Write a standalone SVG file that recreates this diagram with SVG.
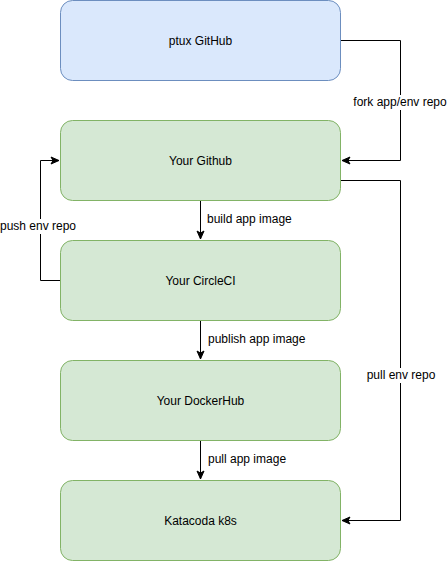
<svg xmlns="http://www.w3.org/2000/svg" width="447" height="561" viewBox="0 0 447 561">
<style>
.node rect{stroke-width:1}
.blue rect{fill:#dae8fc;stroke:#6c8ebf}
.green rect{fill:#d5e8d4;stroke:#82b366}
text{font-family:"Liberation Sans",Arial,Helvetica,sans-serif;font-size:12px;fill:#000}
.c{text-anchor:middle}
.edge{fill:none;stroke:#000;stroke-width:1}
.bg{fill:#fff}
</style>
<defs>
<marker id="arr" markerUnits="userSpaceOnUse" markerWidth="10" markerHeight="10" viewBox="0 0 10 10" refX="9" refY="5" orient="auto">
<path d="M1,1.5 L9,5 L1,8.5 L3,5 Z" fill="#000" stroke="#000" stroke-width="1"/>
</marker>
</defs>
<rect width="447" height="561" fill="#fff"/>
<g id="connectors">
<path class="edge" d="M340.5,40.5 H400.5 V160.5 H342" marker-end="url(#arr)"/>
<path class="edge" d="M340.5,180.5 H400.5 V520.5 H342" marker-end="url(#arr)"/>
<path class="edge" d="M200.5,200.5 V239" marker-end="url(#arr)"/>
<path class="edge" d="M60.5,280.5 H40.5 V160.5 H59" marker-end="url(#arr)"/>
<path class="edge" d="M200.5,320.5 V359" marker-end="url(#arr)"/>
<path class="edge" d="M200.5,440.5 V479" marker-end="url(#arr)"/>
<rect class="bg" x="353" y="95" width="94" height="15"/>
<text class="c" x="400" y="106">fork app/env repo</text>
<rect class="bg" x="366" y="368" width="70" height="15"/>
<text class="c" x="401" y="379">pull env repo</text>
<rect class="bg" x="0" y="219" width="77" height="15"/>
<text class="c" x="38" y="230">push env repo</text>
<text x="207" y="223">build app image</text>
<text x="208" y="343">publish app image</text>
<text x="208" y="463">pull app image</text>
</g>
<g id="ptux-github" class="node blue"><rect x="60.5" y="0.5" width="280" height="80" rx="12"/><text class="c" x="200.5" y="45">ptux GitHub</text></g>
<g id="your-github" class="node green"><rect x="60.5" y="120.5" width="280" height="80" rx="12"/><text class="c" x="200.5" y="165">Your Github</text></g>
<g id="your-circleci" class="node green"><rect x="60.5" y="240.5" width="280" height="80" rx="12"/><text class="c" x="200.5" y="285">Your CircleCI</text></g>
<g id="your-dockerhub" class="node green"><rect x="60.5" y="360.5" width="280" height="80" rx="12"/><text class="c" x="200.5" y="405">Your DockerHub</text></g>
<g id="katacoda-k8s" class="node green"><rect x="60.5" y="480.5" width="280" height="80" rx="12"/><text class="c" x="200.5" y="525">Katacoda k8s</text></g>
</svg>
